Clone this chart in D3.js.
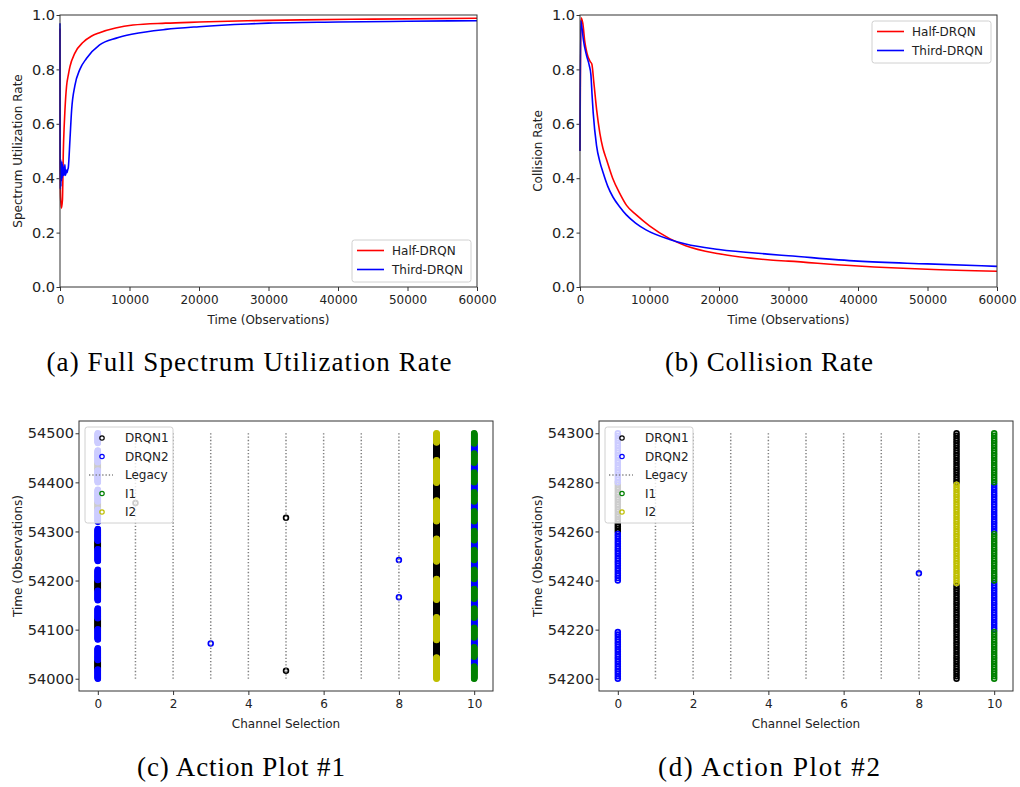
<!DOCTYPE html>
<meta charset="utf-8">
<style>

body {
  margin: 0;
  background: #fff;
}

text {
  font-family: "DejaVu Sans", sans-serif;
  font-size: 12px;
  fill: #222;
}

.yaxis text {
  font-size: 14.5px;
}

.caption {
  font-family: "Liberation Serif", serif;
  font-size: 27px;
  fill: #000;
  text-anchor: middle;
}

.tick line {
  stroke: #333;
}

.frame {
  fill: none;
  stroke: #333;
  stroke-width: 1px;
}

</style>
<svg width="1020" height="787"></svg>
<script src="https://d3js.org/d3.v7.min.js"></script>
<script>

// ---- top row: rates vs time ----
var timeTicks = [0, 10000, 20000, 30000, 40000, 50000, 60000];
var rateTicks = [0, 0.2, 0.4, 0.6, 0.8, 1.0];

var halfUtilT = [0, 20, 80, 200, 350, 480, 600, 710, 950, 1200, 1430, 2140, 3330, 4500, 5700, 8000, 10500, 15200, 20000, 27000, 35000, 45000, 60000];
var halfUtilV = [0.95, 0.45, 0.33, 0.29, 0.32, 0.50, 0.59, 0.65, 0.74, 0.78, 0.81, 0.86, 0.90, 0.922, 0.935, 0.952, 0.963, 0.970, 0.974, 0.979, 0.982, 0.985, 0.988];

var thirdUtilT = [0, 15, 50, 90, 130, 170, 220, 270, 320, 380, 450, 520, 600, 700, 800, 900, 1000, 1100, 1200, 1430, 1670, 2140, 2860, 3800, 5700, 8100, 10500, 15200, 20000, 27000, 30000, 40000, 50000, 60000];
var thirdUtilV = [0.97, 0.48, 0.36, 0.47, 0.37, 0.44, 0.39, 0.46, 0.40, 0.45, 0.41, 0.44, 0.41, 0.45, 0.41, 0.43, 0.42, 0.43, 0.44, 0.54, 0.65, 0.74, 0.80, 0.84, 0.89, 0.915, 0.93, 0.947, 0.957, 0.967, 0.970, 0.974, 0.977, 0.979];

var halfCollT = [0, 150, 400, 700, 1000, 1430, 1700, 2000, 2400, 2860, 3300, 3800, 4700, 5700, 6700, 8100, 10000, 12900, 15200, 20000, 27000, 30000, 40000, 50000, 60000];
var halfCollV = [0.5, 0.99, 0.97, 0.90, 0.86, 0.83, 0.82, 0.75, 0.65, 0.565, 0.51, 0.47, 0.40, 0.345, 0.30, 0.265, 0.225, 0.178, 0.152, 0.122, 0.100, 0.095, 0.077, 0.065, 0.058];

var thirdCollT = [0, 100, 300, 480, 950, 1330, 1570, 1750, 1900, 2380, 2860, 3330, 4000, 4760, 5700, 6670, 8000, 9500, 12900, 15200, 20000, 27000, 30000, 40000, 50000, 60000];
var thirdCollV = [0.5, 0.98, 0.95, 0.91, 0.85, 0.815, 0.78, 0.70, 0.64, 0.52, 0.46, 0.42, 0.37, 0.33, 0.295, 0.265, 0.235, 0.21, 0.175, 0.158, 0.138, 0.121, 0.115, 0.095, 0.085, 0.076];

// ---- bottom row: channel actions, runs are [channel, first step, last step] ----
var channelTicks = [0, 2, 4, 6, 8, 10];
var legacyChannels = [1, 2, 3, 4, 5, 6, 7, 8];

var timeTicksC = [54000, 54100, 54200, 54300, 54400, 54500];
var drqn1RunsC = [[0, 54020, 54037], [9, 54044, 54078], [0, 54102, 54122], [9, 54126, 54160], [0, 54180, 54200], [9, 54204, 54238],
                  [0, 54265, 54280], [9, 54286, 54320], [0, 54345, 54360], [9, 54364, 54398], [0, 54425, 54440], [9, 54446, 54480]];
var drqn1PointsC = [[5, 54016], [5, 54328], [1, 54358]];
var drqn2RunsC = [[0, 54000, 54019], [0, 54038, 54062], [0, 54080, 54101], [0, 54123, 54143], [0, 54160, 54179], [0, 54201, 54222],
                  [0, 54240, 54264], [0, 54281, 54305], [0, 54320, 54344], [0, 54361, 54385], [0, 54400, 54424], [0, 54441, 54465], [0, 54480, 54500],
                  [10, 54026, 54044], [10, 54065, 54083], [10, 54105, 54123], [10, 54144, 54162], [10, 54184, 54202], [10, 54223, 54241],
                  [10, 54263, 54281], [10, 54302, 54320], [10, 54342, 54360], [10, 54381, 54399], [10, 54421, 54439], [10, 54460, 54478]];
var drqn2PointsC = [[3, 54072], [8, 54166], [8, 54242]];
var i1RunsC = [[10, 54000, 54025], [10, 54045, 54064], [10, 54084, 54104], [10, 54124, 54143], [10, 54163, 54183], [10, 54203, 54222],
               [10, 54242, 54262], [10, 54282, 54301], [10, 54321, 54341], [10, 54361, 54380], [10, 54400, 54420], [10, 54440, 54459], [10, 54479, 54500]];
var i2RunsC = [[9, 54000, 54043], [9, 54079, 54125], [9, 54161, 54203], [9, 54239, 54285], [9, 54321, 54363], [9, 54399, 54445], [9, 54481, 54500]];

var timeTicksD = [54200, 54220, 54240, 54260, 54280, 54300];
var drqn1RunsD = [[9, 54200, 54238], [0, 54260, 54280], [9, 54280, 54300]];
var drqn1PointsD = [];
var drqn2RunsD = [[0, 54200, 54219], [10, 54220, 54239], [0, 54240, 54259], [10, 54260, 54279], [0, 54280, 54300]];
var drqn2PointsD = [[8, 54243]];
var i1RunsD = [[10, 54200, 54219], [10, 54240, 54259], [10, 54280, 54300]];
var i2RunsD = [[9, 54239, 54279]];

var colors = {half: "#ff0000", third: "#0000ff", drqn1: "#000000", drqn2: "#0000ff", legacy: "#808080", i1: "#008000", i2: "#bfbf00"};

var svg = d3.select("svg");

function zip(ts, vs) {
  return ts.map(function(t, i) { return [t, vs[i]]; });
}

function expand(runs, points) {
  var out = [];
  runs.forEach(function(r) {
    d3.range(r[1], r[2] + 1).forEach(function(t) { out.push([r[0], t]); });
  });
  return out.concat(points || []);
}

function axes(box, x, y, xTicks, yTicks, xFmt, yFmt, xLabel, yLabel, yLabelX) {
  var g = svg.append("g");
  g.append("g")
      .attr("transform", "translate(0," + box.y1 + ")")
      .call(d3.axisBottom(x).tickValues(xTicks).tickFormat(xFmt).tickSize(4).tickPadding(4.5))
      .call(function(s) { s.select(".domain").remove(); });
  g.append("g")
      .attr("class", "yaxis")
      .attr("transform", "translate(" + box.x0 + ",0)")
      .call(d3.axisLeft(y).tickValues(yTicks).tickFormat(yFmt).tickSize(3.5).tickPadding(1.5))
      .call(function(s) { s.select(".domain").remove(); });
  g.append("text")
      .attr("x", (box.x0 + box.x1) / 2)
      .attr("y", box.y1 + 37)
      .attr("text-anchor", "middle")
      .text(xLabel);
  g.append("text")
      .attr("transform", "translate(" + yLabelX + "," + (box.y0 + box.y1) / 2 + ") rotate(-90)")
      .attr("text-anchor", "middle")
      .text(yLabel);
  return g;
}

function frame(box) {
  svg.append("rect")
      .attr("class", "frame")
      .attr("x", box.x0)
      .attr("y", box.y0)
      .attr("width", box.x1 - box.x0)
      .attr("height", box.y1 - box.y0);
}

function legendBox(x0, y0, w, h) {
  var g = svg.append("g");
  g.append("rect")
      .attr("x", x0).attr("y", y0)
      .attr("width", w).attr("height", h)
      .attr("rx", 2.5)
      .attr("fill", "#fff").attr("fill-opacity", 0.8)
      .attr("stroke", "#d0d0d0");
  return g;
}

function lineChart(box, series, legendAt) {
  var x = d3.scaleLinear().domain([0, 60000]).range([box.x0, box.x1]);
  var y = d3.scaleLinear().domain([0, 1]).range([box.y1, box.y0]);
  axes(box, x, y, timeTicks, rateTicks, d3.format("d"), d3.format(".1f"),
       "Time (Observations)", series.yLabel, box.x0 - 38);

  var line = d3.line()
      .x(function(d) { return x(d[0]); })
      .y(function(d) { return y(d[1]); })
      .curve(d3.curveMonotoneX);

  series.lines.forEach(function(s) {
    svg.append("path")
        .datum(s.data)
        .attr("fill", "none")
        .attr("stroke", s.color)
        .attr("stroke-width", 1.6)
        .attr("stroke-linejoin", "round")
        .attr("d", line);
  });
  frame(box);

  var lg = legendBox(legendAt[0], legendAt[1], 119, 42);
  series.lines.forEach(function(s, i) {
    var yy = legendAt[1] + 10.5 + i * 19;
    lg.append("line")
        .attr("x1", legendAt[0] + 5).attr("x2", legendAt[0] + 32)
        .attr("y1", yy).attr("y2", yy)
        .attr("stroke", s.color).attr("stroke-width", 1.6);
    lg.append("text")
        .attr("x", legendAt[0] + 40).attr("y", yy)
        .attr("dy", "0.35em")
        .text(s.name);
  });
}

function actionChart(box, tDomain, tTicks, d) {
  var x = d3.scaleLinear().domain([-0.5, 10.5]).range([box.x0, box.x1]);
  var y = d3.scaleLinear().domain(tDomain).range([box.y1, box.y0]);
  var t0 = tTicks[0], t1 = tTicks[tTicks.length - 1];
  axes(box, x, y, channelTicks, tTicks, d3.format("d"), d3.format("d"),
       "Channel Selection", "Time (Observations)", box.x0 - 57);

  function rings(pts, color) {
    svg.append("g")
        .selectAll("circle")
        .data(pts)
        .enter().append("circle")
        .attr("cx", function(p) { return x(p[0]); })
        .attr("cy", function(p) { return y(p[1]); })
        .attr("r", 2.4)
        .attr("fill", "none")
        .attr("stroke", color)
        .attr("stroke-width", 1.7);
  }

  rings(expand(d.drqn1Runs, d.drqn1Points), colors.drqn1);
  rings(expand(d.drqn2Runs, d.drqn2Points), colors.drqn2);

  svg.append("g")
      .selectAll("line")
      .data(legacyChannels)
      .enter().append("line")
      .attr("x1", function(c) { return x(c); })
      .attr("x2", function(c) { return x(c); })
      .attr("y1", y(t0))
      .attr("y2", y(t1))
      .attr("stroke", colors.legacy)
      .attr("stroke-width", 1.5)
      .attr("stroke-dasharray", "1.3,2");

  rings(expand(d.i1Runs), colors.i1);
  rings(expand(d.i2Runs), colors.i2);
  frame(box);

  var lx = box.x0 + 6, ly = box.y0 + 6;
  var lg = legendBox(lx, ly, 88, 96);
  var items = [
    {name: "DRQN1", color: colors.drqn1},
    {name: "DRQN2", color: colors.drqn2},
    {name: "Legacy", color: colors.legacy, dotted: true},
    {name: "I1", color: colors.i1},
    {name: "I2", color: colors.i2}
  ];
  items.forEach(function(it, i) {
    var yy = ly + 11 + i * 18.5;
    if (it.dotted) {
      lg.append("line")
          .attr("x1", lx + 4).attr("x2", lx + 28)
          .attr("y1", yy).attr("y2", yy)
          .attr("stroke", it.color).attr("stroke-width", 1.5)
          .attr("stroke-dasharray", "1.3,2");
    } else {
      lg.append("circle")
          .attr("cx", lx + 17).attr("cy", yy)
          .attr("r", 2.2)
          .attr("fill", "none")
          .attr("stroke", it.color)
          .attr("stroke-width", 1.2);
    }
    lg.append("text")
        .attr("x", lx + 40).attr("y", yy)
        .attr("dy", "0.35em")
        .text(it.name);
  });
}

var boxA = {x0: 60, x1: 477, y0: 15, y1: 287};
var boxB = {x0: 580, x1: 997, y0: 15, y1: 287};
var boxC = {x0: 79, x1: 493, y0: 421, y1: 691};
var boxD = {x0: 599, x1: 1013, y0: 421, y1: 691};

lineChart(boxA, {
  yLabel: "Spectrum Utilization Rate",
  lines: [
    {name: "Half-DRQN", color: colors.half, data: zip(halfUtilT, halfUtilV)},
    {name: "Third-DRQN", color: colors.third, data: zip(thirdUtilT, thirdUtilV)}
  ]
}, [352, 240]);

lineChart(boxB, {
  yLabel: "Collision Rate",
  lines: [
    {name: "Half-DRQN", color: colors.half, data: zip(halfCollT, halfCollV)},
    {name: "Third-DRQN", color: colors.third, data: zip(thirdCollT, thirdCollV)}
  ]
}, [872, 21]);

actionChart(boxC, [53975, 54525], timeTicksC, {
  drqn1Runs: drqn1RunsC, drqn1Points: drqn1PointsC,
  drqn2Runs: drqn2RunsC, drqn2Points: drqn2PointsC,
  i1Runs: i1RunsC, i2Runs: i2RunsC
});

actionChart(boxD, [54195, 54305], timeTicksD, {
  drqn1Runs: drqn1RunsD, drqn1Points: drqn1PointsD,
  drqn2Runs: drqn2RunsD, drqn2Points: drqn2PointsD,
  i1Runs: i1RunsD, i2Runs: i2RunsD
});

// sub-figure captions
var captions = [
  {text: "(a) Full Spectrum Utilization Rate", x: 249, y: 371, w: 405},
  {text: "(b) Collision Rate", x: 769, y: 371, w: 208},
  {text: "(c) Action Plot #1", x: 241, y: 776, w: 208},
  {text: "(d) Action Plot #2", x: 769, y: 776, w: 222}
];
svg.selectAll(".caption")
    .data(captions)
    .enter().append("text")
    .attr("class", "caption")
    .attr("x", function(d) { return d.x; })
    .attr("y", function(d) { return d.y; })
    .attr("textLength", function(d) { return d.w; })
    .attr("lengthAdjust", "spacing")
    .text(function(d) { return d.text; });

</script>
